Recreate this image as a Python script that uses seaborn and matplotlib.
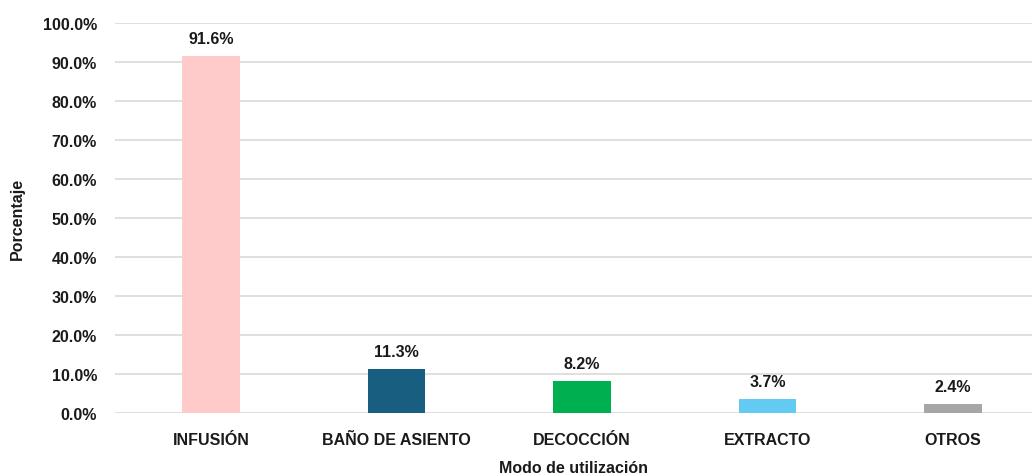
import matplotlib
matplotlib.use('Agg')
import matplotlib.pyplot as plt
import seaborn as sns
import pandas as pd
from matplotlib.ticker import PercentFormatter

# data
categorias = ['INFUSIÓN', 'BAÑO DE ASIENTO', 'DECOCCIÓN', 'EXTRACTO', 'OTROS']
porcentajes = [91.6, 11.3, 8.2, 3.7, 2.4]
colores = ['#FFCACA', '#175E80', '#00B050', '#63CBF2', '#A6A6A6']

df = pd.DataFrame({'Modo': categorias, 'Pct': porcentajes})

sns.set_theme(style='white')
plt.rcParams['font.family'] = ['Liberation Sans', 'DejaVu Sans']

fig = plt.figure(figsize=(10.35, 4.77), dpi=100)
ax = fig.add_axes([115 / 1035, 1 - 414 / 477, (1032 - 115) / 1035, (414 - 24) / 477])

sns.barplot(data=df, x='Modo', y='Pct', hue='Modo', palette=colores,
            width=0.31, legend=False, ax=ax, saturation=1, edgecolor='none')

ax.set_ylim(0, 100)
ax.set_xlim(-0.518, 4.425)
ax.set_yticks(range(0, 101, 10))
ax.yaxis.set_major_formatter(PercentFormatter(100, decimals=1))
ax.grid(axis='y', color='#D9D9D9', lw=1.2)
ax.set_axisbelow(True)
for s in ax.spines.values():
    s.set_visible(False)
fs = 11.5
ax.tick_params(axis='both', length=0, labelsize=fs, colors='#1A1A1A')
ax.tick_params(axis='x', pad=14)
ax.tick_params(axis='y', pad=13)
for lbl in ax.get_xticklabels() + ax.get_yticklabels():
    lbl.set_fontweight('bold')

for i, v in enumerate(porcentajes):
    ax.annotate(f'{v:.1f}%', (i, v), xytext=(0, 7), textcoords='offset points',
                ha='center', va='bottom', fontsize=fs, fontweight='bold', color='#1A1A1A')

ax.set_xlabel('Modo de utilización', fontsize=fs, fontweight='bold', color='#1A1A1A', labelpad=9)
ax.set_ylabel('Porcentaje', fontsize=fs, fontweight='bold', color='#1A1A1A', labelpad=13)

fig.savefig('out.png', dpi=100)
